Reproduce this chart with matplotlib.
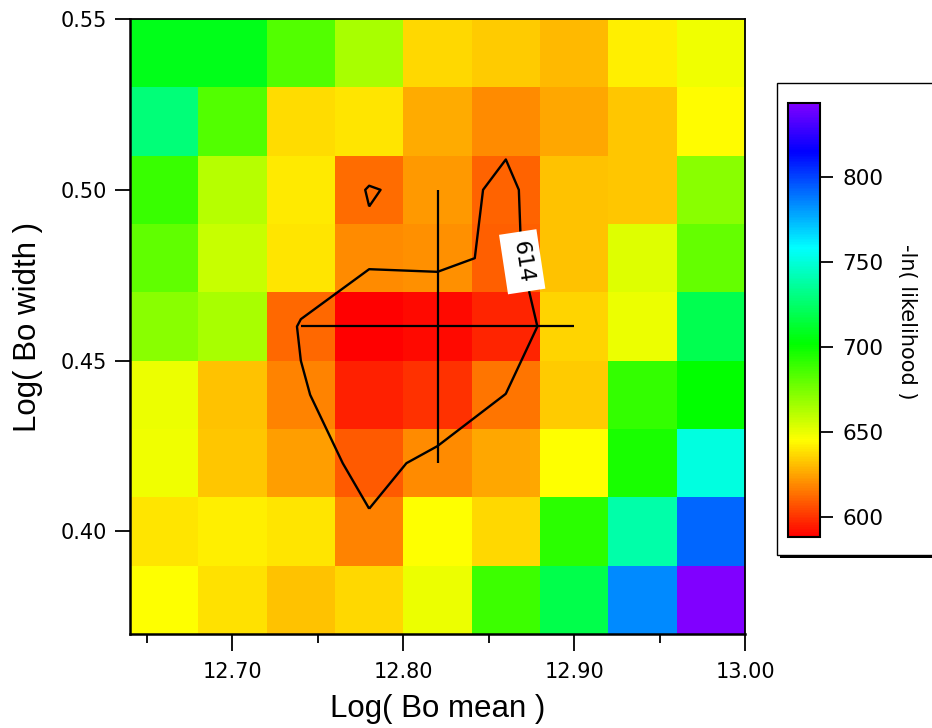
import colorsys
import numpy as np
import matplotlib
matplotlib.use('Agg')
import matplotlib.pyplot as plt
from matplotlib.colors import ListedColormap
from matplotlib.patches import Rectangle

# grid centres: log(Bo mean) along x, log(Bo width) along y
bo_mean = [12.66, 12.70, 12.74, 12.78, 12.82, 12.86, 12.90, 12.94, 12.98]
bo_width = [0.38, 0.40, 0.42, 0.44, 0.46, 0.48, 0.50, 0.52, 0.54]

# -ln(likelihood), one row per width (bottom to top)
nll_038 = [645, 638, 631, 636, 649, 688, 718, 784, 843.5]
nll_040 = [639, 641, 639, 617, 645, 636, 692, 739, 792]
nll_042 = [648, 632, 623.5, 608, 619, 625, 645, 696, 751]
nll_044 = [649, 631, 617, 595, 599, 614.3, 633, 690, 701]
nll_046 = [671, 664, 611, 588, 590, 596, 635, 649, 719]
nll_048 = [680, 657, 639, 619, 620, 609, 631, 652, 679]
nll_050 = [689, 661, 640, 612.4, 622, 610, 631, 632, 671]
nll_052 = [728, 683, 637, 639, 626, 619, 625, 632, 644]
nll_054 = [707, 707, 683, 664, 636, 633, 629, 641, 648]
nll = np.array([nll_038, nll_040, nll_042, nll_044, nll_046,
                nll_048, nll_050, nll_052, nll_054])

# best fit and its errors
best_mean, err_mean = 12.82, 0.08
best_width, err_width = 0.46, 0.04
level = 614

xticks = [12.70, 12.80, 12.90, 13.00]
yticks = [0.40, 0.45, 0.50, 0.55]
cticks = [600, 650, 700, 750, 800]

# rainbow table: red at the minimum up to violet at the maximum
hues = np.linspace(0.0, 0.75, 256)
rainbow = ListedColormap([colorsys.hsv_to_rgb(h, 1.0, 1.0) for h in hues])

W, H = 932, 728
fig = plt.figure(figsize=(W / 100, H / 100), dpi=100)
ax = fig.add_axes([130 / W, (H - 634) / H, 615 / W, 615 / H])

mesh = ax.pcolormesh(bo_mean, bo_width, nll, cmap=rainbow, shading='nearest')
cs = ax.contour(bo_mean, bo_width, nll, levels=[level], colors='k', linewidths=1.7)
lab = ax.clabel(cs, manual=[(12.87, 0.479)], fmt='%d', fontsize=16, inline=True)
for t in lab:
    t.set_bbox(dict(boxstyle='square,pad=0.4', fc='white', ec='none'))
ax.errorbar([best_mean], [best_width], xerr=err_mean, yerr=err_width,
            fmt='none', ecolor='k', elinewidth=1.6, capsize=0)

ax.set_xlim(12.64, 13.00)
ax.set_ylim(0.37, 0.55)
ax.set_xticks(xticks, [f'{v:.2f}' for v in xticks])
ax.set_xticks([12.65, 12.75, 12.85, 12.95], minor=True)
ax.set_yticks(yticks, [f'{v:.2f}' for v in yticks])
ax.tick_params(axis='x', which='major', direction='out', length=12, width=1.3,
               pad=8, labelsize=15)
ax.tick_params(axis='x', which='minor', direction='out', length=6.5, width=1.3)
ax.tick_params(axis='y', direction='out', length=10.5, width=1.3, pad=6,
               labelsize=15)
for s in ax.spines.values():
    s.set_linewidth(1.3)
ax.spines['left'].set_linewidth(1.8)
ax.spines['bottom'].set_linewidth(1.8)

ax.set_xlabel('Log( Bo mean )', fontsize=22.5, family='Liberation Sans', labelpad=9)
ax.set_ylabel('Log( Bo width )', fontsize=22.5, family='Liberation Sans', labelpad=13)

# colour scale in a framed box with a drop shadow
shadow = Rectangle((780 / W, (H - 558) / H), 0.3, 473 / H, transform=fig.transFigure,
                   fc='black', ec='none', zorder=-2)
box = Rectangle((777 / W, (H - 555) / H), 0.3, 472 / H, transform=fig.transFigure,
                fc='white', ec='black', lw=1.0, zorder=-1)
fig.patches.extend([shadow, box])

cax = fig.add_axes([788 / W, (H - 537) / H, 32 / W, 434 / H])
cb = fig.colorbar(mesh, cax=cax, ticks=cticks)
cb.outline.set_linewidth(1.5)
cax.tick_params(length=9.5, width=1.3, pad=6.5, labelsize=15.5)
fig.text(907 / W, 1 - 322 / H, '-ln( likelihood )', rotation=270,
         ha='center', va='center', fontsize=15)

fig.savefig('out.png', dpi=100)
